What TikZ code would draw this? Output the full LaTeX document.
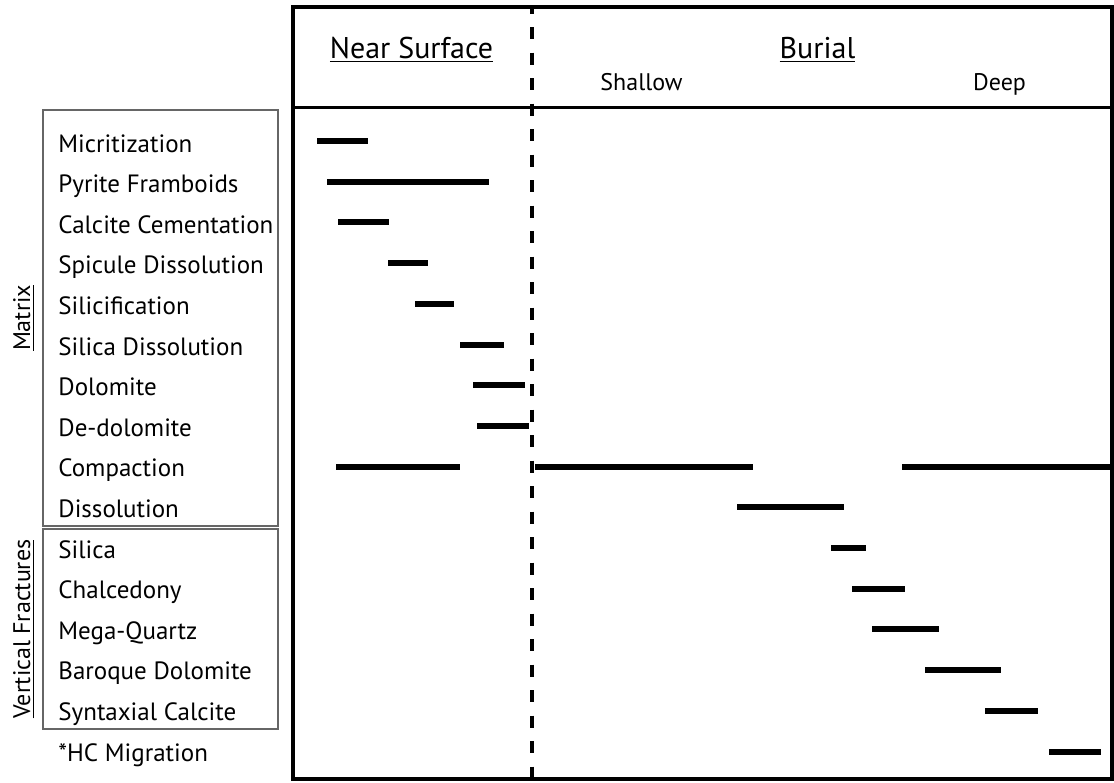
\documentclass[tikz,border=0pt]{standalone}
\usepackage{fontspec}
\setmainfont{PT Sans}
\tikzset{
    bar/.style={line width=3pt},
    frame/.style={line width=1.75pt},
    grp/.style={draw=black!60,line width=1pt},
    head/.style={font=\fontsize{15}{17}\selectfont},
    sub/.style={font=\fontsize{12}{14}\selectfont}
}
\begin{document}
\begin{tikzpicture}[x=0.5pt,y=-0.5pt,every node/.style={inner sep=0pt,font=\fontsize{12.5}{14}\selectfont}]
        \useasboundingbox (0,0) rectangle (1114,782);
        % frame and header
        \draw[frame] (293,7) rectangle (1112,779);
        \draw[frame] (293,107.5) -- (1112,107.5);
        \draw[frame,dash pattern=on 6pt off 6.75pt,dash phase=2.75pt] (532,7) -- (532,779);
        \node[head,anchor=base] (near) at (411.5,58) {\underline{Near Surface}};
        \node[head,anchor=base] (burial) at (817.5,58) {\underline{Burial}};
        \node[sub,anchor=base] (shallow) at (641.5,90) {Shallow};
        \node[sub,anchor=base] (deep) at (999.5,90) {Deep};
        % groups
        \draw[grp] (43,110) rectangle (278,526);
        \draw[grp] (43,529) rectangle (278,729);
        \node[sub,rotate=90,anchor=base] (matrix) at (30,318) {\underline{Matrix}};
        \node[sub,rotate=90,anchor=base] (fract) at (30,629) {\underline{Vertical Fractures}};
        % labels
        \foreach \name [count=\i from 0] in {Micritization,Pyrite Framboids,Calcite Cementation,
            Spicule Dissolution,Silicification,Silica Dissolution,Dolomite,De-dolomite,Compaction,
            Dissolution,Silica,Chalcedony,Mega-Quartz,Baroque Dolomite,Syntaxial Calcite,*HC Migration}
            \node[anchor=base west] (lab\i) at (58,{152+40.6*\i}) {\name};
        % bars
        \foreach \r/\a/\b in {0/317/368,1/327/489,2/338/389,3/388/428,4/415/454,5/460/504,
            6/473/525,7/477/529,8/336/460,8/535/753,8/902/1112,9/737/844,10/831/866,
            11/852/905,12/872/939,13/925/1001,14/985/1038,15/1049/1101}
            \draw[bar] (\a,{141+40.7*\r}) -- (\b,{141+40.7*\r});
\end{tikzpicture}
\end{document}
